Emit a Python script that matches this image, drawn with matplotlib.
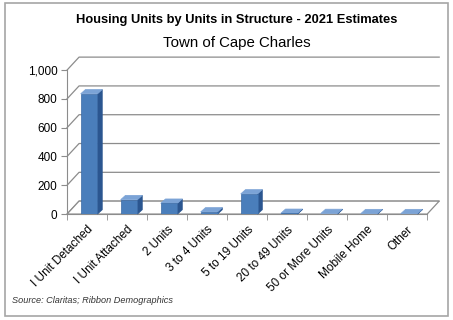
import matplotlib.pyplot as plt
from matplotlib.patches import Polygon, Rectangle

# data
categories = ["I Unit Detached", "I Unit Attached", "2 Units", "3 to 4 Units",
              "5 to 19 Units", "20 to 49 Units", "50 or More Units",
              "Mobile Home", "Other"]
units = [835, 100, 75, 15, 140, 5, 4, 3, 3]
yticks = [0, 200, 400, 600, 800, 1000]

FRONT = "#4a7ebb"
SIDE = "#2b5690"
TOP = "#7ba3d6"

fig = plt.figure(figsize=(4.53, 3.2), dpi=100)
fig.patches.append(Rectangle((0.012, 0.012), 0.976, 0.978, transform=fig.transFigure,
                             fill=False, edgecolor="#a6a6a6", linewidth=1.2))

ax = fig.add_axes([0.148, 0.331, 0.795, 0.45])
ax.set_xlim(-0.5, len(categories) - 0.5)
ax.set_ylim(0, 1000)

# pseudo 3-D offsets (data units)
wall_dx, wall_dy = 0.3, 90
bar_dx, bar_dy = 0.12, 30
width = 0.42

xmin, xmax = -0.5, len(categories) - 0.5
# back wall gridlines with diagonal from axis
for v in yticks:
    ax.plot([xmin, xmin + wall_dx, xmax + wall_dx], [v, v + wall_dy, v + wall_dy],
            color="#8c8c8c", linewidth=0.9, clip_on=False, zorder=1)
# floor
ax.add_patch(Polygon([(xmin, 0), (xmax, 0), (xmax + wall_dx, wall_dy), (xmin + wall_dx, wall_dy)],
                     closed=True, facecolor="white", edgecolor="#8c8c8c", linewidth=0.9,
                     clip_on=False, zorder=1))

# bars
for i, v in enumerate(units):
    x0 = i - width / 2 + 0.05
    x1 = x0 + width
    ax.add_patch(Polygon([(x1, 0), (x1 + bar_dx, bar_dy), (x1 + bar_dx, v + bar_dy), (x1, v)],
                         closed=True, facecolor=SIDE, edgecolor=SIDE, linewidth=0.5,
                         clip_on=False, zorder=3))
    ax.add_patch(Polygon([(x0, v), (x1, v), (x1 + bar_dx, v + bar_dy), (x0 + bar_dx, v + bar_dy)],
                         closed=True, facecolor=TOP, edgecolor=TOP, linewidth=0.5,
                         clip_on=False, zorder=3))
    ax.bar(i + 0.05, v, width=width, color=FRONT, edgecolor="#3a6aa5", linewidth=0.5, zorder=4)

for s in ["top", "right"]:
    ax.spines[s].set_visible(False)
ax.spines["left"].set_color("#8c8c8c")
ax.spines["bottom"].set_color("#8c8c8c")
ax.set_yticks(yticks)
ax.set_yticklabels([f"{v:,}" for v in yticks], fontsize=8.5, family="Liberation Sans")
ax.tick_params(axis="y", length=4, color="#8c8c8c", pad=3)
ax.set_xticks(range(len(categories)))
ax.set_xticklabels(categories, rotation=45, ha="right", rotation_mode="anchor",
                   fontsize=8.5, family="Liberation Sans")
ax.tick_params(axis="x", length=0, pad=7)
ax.set_xticks([i - 0.5 for i in range(len(categories) + 1)], minor=True)
ax.tick_params(axis="x", which="minor", length=4, color="#8c8c8c", direction="out")

fig.text(0.523, 0.937, "Housing Units by Units in Structure - 2021 Estimates",
         ha="center", va="center", fontsize=9.3, fontweight="bold", family="Liberation Sans")
fig.text(0.523, 0.865, "Town of Cape Charles", ha="center", va="center",
         fontsize=10.8, family="Liberation Sans")
fig.text(0.027, 0.062, "Source: Claritas; Ribbon Demographics", ha="left", va="center",
         fontsize=6.6, style="italic", family="Liberation Sans", color="#333333")

fig.savefig("out.png", dpi=100)
